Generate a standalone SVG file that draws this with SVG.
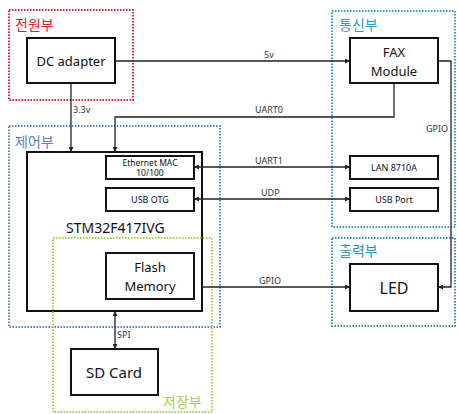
<svg xmlns="http://www.w3.org/2000/svg" width="458" height="414" viewBox="0 0 458 414">
<defs>
<style>
text{font-family:"Noto Sans","Noto Sans CJK KR",sans-serif;fill:#111}
.box{fill:#fff;stroke:#111;stroke-width:2}
.grp{fill:none;stroke-width:2;stroke-dasharray:1.5 1.5}
.ln{fill:none;stroke:#222;stroke-width:1.3}
.lbl{font-size:9px;fill:#333}
.sec{font-size:14px;font-family:"Noto Sans CJK KR",sans-serif}
</style>
<marker id="ah" viewBox="0 0 6 6" refX="6" refY="3" markerWidth="5" markerHeight="5" orient="auto-start-reverse" markerUnits="userSpaceOnUse">
<path d="M0,0 L6,3 L0,6 z" fill="#222"/>
</marker>
</defs>
<rect width="458" height="414" fill="#fff"/>

<g id="groups">
<rect class="grp" x="9" y="10" width="124" height="90" stroke="#e8202a"/>
<text class="sec" x="15" y="30" style="fill:#e8202a">전원부</text>
<rect class="grp" x="332" y="11" width="123" height="216" stroke="#2a9fd0"/>
<text class="sec" x="339" y="30" style="fill:#2a9fd0">통신부</text>
<rect class="grp" x="9" y="126" width="211" height="201" stroke="#5b82c0"/>
<text class="sec" x="15" y="147" style="fill:#5b82c0">제어부</text>
<rect class="grp" x="332" y="238" width="123" height="88" stroke="#3a8fb0"/>
<text class="sec" x="339" y="256" style="fill:#3a8fb0">출력부</text>
</g>

<g id="chip">
<rect class="box" x="27" y="152" width="175" height="159"/>
<text x="66" y="233" font-size="14">STM32F417IVG</text>
</g>

<g id="storage-group">
<rect class="grp" x="53" y="238" width="159" height="174" stroke="#a8cf50"/>
<text class="sec" x="163" y="407" style="fill:#a8cf50">저장부</text>
</g>

<g id="connectors">
<line class="ln" x1="115" y1="61" x2="350" y2="61" marker-end="url(#ah)"/>
<text class="lbl" x="264" y="58">5v</text>
<line class="ln" x1="71" y1="83" x2="71" y2="152" marker-end="url(#ah)"/>
<text class="lbl" x="73" y="113">3.3v</text>
<polyline class="ln" points="394,83 394,117 115,117 115,152" marker-end="url(#ah)"/>
<text class="lbl" x="255" y="113">UART0</text>
<line class="ln" x1="194" y1="167" x2="350" y2="167" marker-start="url(#ah)" marker-end="url(#ah)"/>
<text class="lbl" x="255" y="164">UART1</text>
<line class="ln" x1="194" y1="199" x2="350" y2="199" marker-start="url(#ah)" marker-end="url(#ah)"/>
<text class="lbl" x="261" y="196">UDP</text>
<line class="ln" x1="202" y1="287" x2="350" y2="287" marker-end="url(#ah)"/>
<text class="lbl" x="259" y="284">GPIO</text>
<polyline class="ln" points="438,61 451,61 451,287 438,287" marker-end="url(#ah)"/>
<text class="lbl" x="426" y="132">GPIO</text>
<line class="ln" x1="115" y1="311" x2="115" y2="349" marker-start="url(#ah)" marker-end="url(#ah)"/>
<text class="lbl" x="117" y="338">SPI</text>
</g>

<g id="dc-adapter">
<rect class="box" x="27" y="38" width="88" height="45"/>
<text x="71" y="66" font-size="13" text-anchor="middle">DC adapter</text>
</g>
<g id="fax-module">
<rect class="box" x="350" y="38" width="88" height="45"/>
<text x="394" y="57" font-size="13" text-anchor="middle">FAX</text>
<text x="394" y="76" font-size="13" text-anchor="middle">Module</text>
</g>
<g id="ethernet-mac">
<rect class="box" x="106" y="156" width="88" height="23"/>
<text x="150" y="166" font-size="8.5" text-anchor="middle">Ethernet MAC</text>
<text x="150" y="176" font-size="8.5" text-anchor="middle">10/100</text>
</g>
<g id="usb-otg">
<rect class="box" x="106" y="188" width="88" height="23"/>
<text x="150" y="203" font-size="9" text-anchor="middle">USB OTG</text>
</g>
<g id="flash-memory">
<rect class="box" x="106" y="253" width="88" height="46"/>
<text x="150" y="272" font-size="13" text-anchor="middle">Flash</text>
<text x="150" y="291" font-size="13" text-anchor="middle">Memory</text>
</g>
<g id="lan">
<rect class="box" x="350" y="156" width="88" height="23"/>
<text x="394" y="171" font-size="9" text-anchor="middle">LAN 8710A</text>
</g>
<g id="usb-port">
<rect class="box" x="350" y="188" width="88" height="23"/>
<text x="394" y="203" font-size="9" text-anchor="middle">USB Port</text>
</g>
<g id="led">
<rect class="box" x="350" y="264" width="88" height="47"/>
<text x="394" y="294" font-size="16" text-anchor="middle">LED</text>
</g>
<g id="sd-card">
<rect class="box" x="71" y="349" width="87" height="46"/>
<text x="114" y="378" font-size="15" text-anchor="middle">SD Card</text>
</g>
</svg>
